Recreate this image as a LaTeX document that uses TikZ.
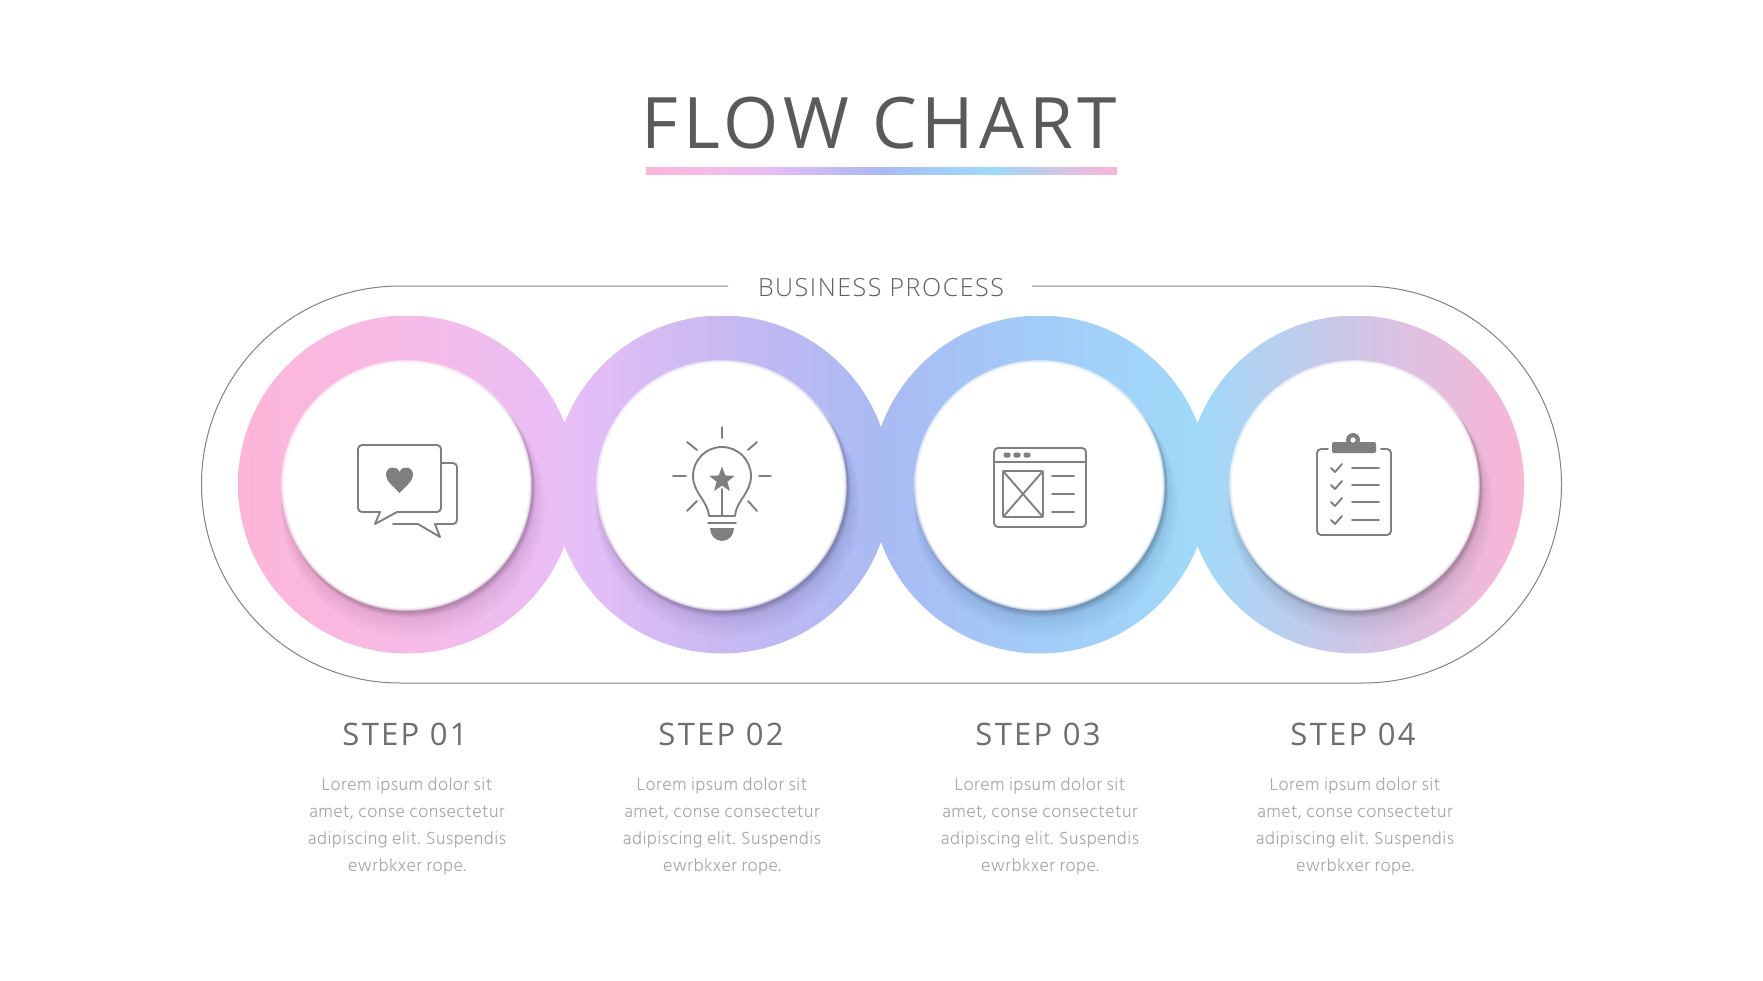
\documentclass[tikz,border=0pt]{standalone}
\usepackage{fontspec}
\usetikzlibrary{shapes.geometric}
\newfontfamily\titlefont[LetterSpace=6.9]{Open Sans}
\newfontfamily\subfont[LetterSpace=6.2]{Open Sans Light}
\newfontfamily\stepfont[LetterSpace=7.4]{Open Sans}
\newfontfamily\bodyfont[LetterSpace=2.5]{Hind Siliguri Light}
\definecolor{ca}{HTML}{FDB5D8}
\definecolor{cb}{HTML}{F6BBE6}
\definecolor{cc}{HTML}{E8BEF6}
\definecolor{cd}{HTML}{C9B9F3}
\definecolor{ce}{HTML}{A9BAF3}
\definecolor{cf}{HTML}{A3CCF8}
\definecolor{cg}{HTML}{A0D9F9}
\definecolor{ch}{HTML}{CFC6E6}
\definecolor{ci}{HTML}{FAB5D6}
\definecolor{icongrey}{HTML}{7F7F7F}
\definecolor{pillgrey}{HTML}{828282}
\definecolor{titlegrey}{HTML}{5A5A5A}
\definecolor{subgrey}{HTML}{5E5E5E}
\definecolor{stepgrey}{HTML}{6E6E6E}
\definecolor{bodygrey}{HTML}{A6A6A6}
\pgfdeclarehorizontalshading{bandshade}{100bp}{color(0bp)=(ca);color(25bp)=(ca);color(31.6bp)=(cb);color(37.7bp)=(cc);color(43.8bp)=(cd);color(49.9bp)=(ce);color(56.2bp)=(cf);color(62.2bp)=(cg);color(68.4bp)=(ch);color(75bp)=(ci);color(100bp)=(ci)}
\tikzset{
  icon/.style={draw=icongrey,line width=1.9pt,line join=round,line cap=round},
  iconfill/.style={fill=icongrey,draw=none},
  disc/.style={circle,fill=white,draw=none,inner sep=0pt,minimum size=245pt},
  titletext/.style={font=\fontsize{71}{71}\titlefont,text=titlegrey,anchor=base,inner sep=0pt},
  subtext/.style={font=\fontsize{25}{25}\subfont,text=subgrey,anchor=base,inner sep=0pt},
  steptext/.style={font=\fontsize{31}{31}\stepfont,text=stepgrey,anchor=base,inner sep=0pt},
  bodytext/.style={font=\fontsize{18}{27.2}\bodyfont,text=bodygrey,align=center,anchor=center,inner sep=0pt},
}
\begin{document}
\begin{tikzpicture}[x=1pt,y=-1pt]
\useasboundingbox[fill=white] (0,0) rectangle (1763,980);
% title
\node[titletext] (title) at (879.5,148) {FLOW CHART};
\shade[shading=bandshade] (646,167) rectangle (1117,174);
% pill
\node[subtext] (sub) at (881,296) {BUSINESS PROCESS};
\coordinate (pl) at (728,286);
\coordinate (pr) at (1032,286);
\draw[pillgrey,line width=1pt] (pl) -- (400,286) arc(270:90:198.5) -- (1363,683) arc(90:-90:198.5) -- (pr);
% rings
\begin{scope}
\clip (407,484.5) circle (169) (722,484.5) circle (169) (1040,484.5) circle (169) (1355,484.5) circle (169);
\shade[shading=bandshade] (238,316) rectangle (1525,653);
\foreach \cx in {407,722,1040,1355}{
  \foreach \t in {12,...,1}{
    \fill[black,fill opacity=.009] ({\cx+\t*0.5},{485.5+\t*1.7}) circle ({125+0.6*\t});
  }
  \foreach \t in {8,...,1}{
    \fill[black,fill opacity=.028] ({\cx+0.3*\t},{485.5+0.7*\t}) circle ({124.5+0.2*\t});
  }
}
\end{scope}
% discs
\foreach \cx/\nm in {407/d1,722/d2,1040/d3,1355/d4}{
  \foreach \r in {125.5,125,124.5,124,123.5,123}{\fill[white,fill opacity=.35] (\cx-.5,485.5) circle (\r);}
  \node[disc] (\nm) at (\cx-.5,485.5) {};
}
\begin{scope}[yshift=-1pt]
% chat icon
\draw[icon] (375,523) -- (380,511) -- (362,511) arc(90:180:4) -- (358,448) arc(180:270:4) -- (437,444) arc(270:360:4) -- (441,507) arc(0:90:4) -- (397,511) -- cycle;
\draw[icon] (441,462) -- (453,462) arc(270:360:4) -- (457,519) arc(0:90:4) -- (435,523) -- (440,536) -- (418,523) -- (393,523);
\fill[iconfill] (399.5,492) .. controls (393,485) and (386,480) .. (386,474) .. controls (386,465) and (397,464) .. (399.5,471) .. controls (402,464) and (413,465) .. (413,474) .. controls (413,480) and (406,485) .. (399.5,492) -- cycle;
% bulb icon
\draw[icon] (722,426) -- (722,437) (673,475) -- (686,475) (759,475) -- (771,475) (687,441) -- (697,449) (757,441) -- (748,449) (687,510) -- (697,500) (757,510) -- (748,500);
\draw[icon] (709,515) .. controls (708,500) and (693,492) .. (693,475) arc(180:360:29) .. controls (751,492) and (736,500) .. (735,515) -- cycle;
\draw[icon] (722,488) -- (722,515) (708,522) -- (736,522);
\node[star,star points=5,star point ratio=2.4,fill=icongrey,inner sep=0pt,minimum size=27pt] (bstar) at (722,479) {};
\fill[iconfill] (710,527) -- (734,527) arc(0:180:12 and 13) -- cycle;
% window icon
\draw[icon] (998,447) -- (1082,447) arc(270:360:4) -- (1086,522) arc(0:90:4) -- (998,526) arc(90:180:4) -- (994,451) arc(180:270:4) -- cycle;
\draw[icon] (994,461) -- (1086,461);
\foreach \x in {1007,1017,1027}{\fill[iconfill,rounded corners=2pt] (\x-3.5,451.5) rectangle (\x+3.5,456.5);}
\draw[icon,rounded corners=2pt] (1003,470) rectangle (1043,516);
\draw[icon] (1003,470) -- (1043,516) (1043,470) -- (1003,516);
\draw[icon] (1052,475) -- (1074,475) (1052,493) -- (1074,493) (1052,511) -- (1074,511);
% clipboard icon
\draw[icon] (1328,448) -- (1321,448) arc(270:180:4) -- (1317,530) arc(180:90:4) -- (1387,534) arc(90:0:4) -- (1391,452) arc(360:270:4) -- (1381,448);
\fill[iconfill,even odd rule] (1353,439) circle (7) (1353,439) circle (2.6);
\fill[iconfill,rounded corners=2pt] (1332,441) rectangle (1376,452);
\fill[white] (1353,439) circle (2.6);
\foreach \y in {467,484,501,519}{
  \draw[icon] (1331,\y) -- (1335,\y+4) -- (1342,\y-4);
  \draw[icon] (1352,\y) -- (1379,\y);
}
\end{scope}
% texts
\foreach \x/\n/\s in {405/s1/STEP 01,721/s2/STEP 02,1038/s3/STEP 03,1353/s4/STEP 04}{
  \node[steptext] (\n) at (\x,745) {\s};
}
\foreach \x/\n in {407/t1,722/t2,1040/t3,1355/t4}{
  \node[bodytext] (\n) at (\x,826.5) {Lorem ipsum dolor sit\\amet, conse consectetur\\adipiscing elit. Suspendis\\ewrbkxer rope.};
}
\end{tikzpicture}
\end{document}
